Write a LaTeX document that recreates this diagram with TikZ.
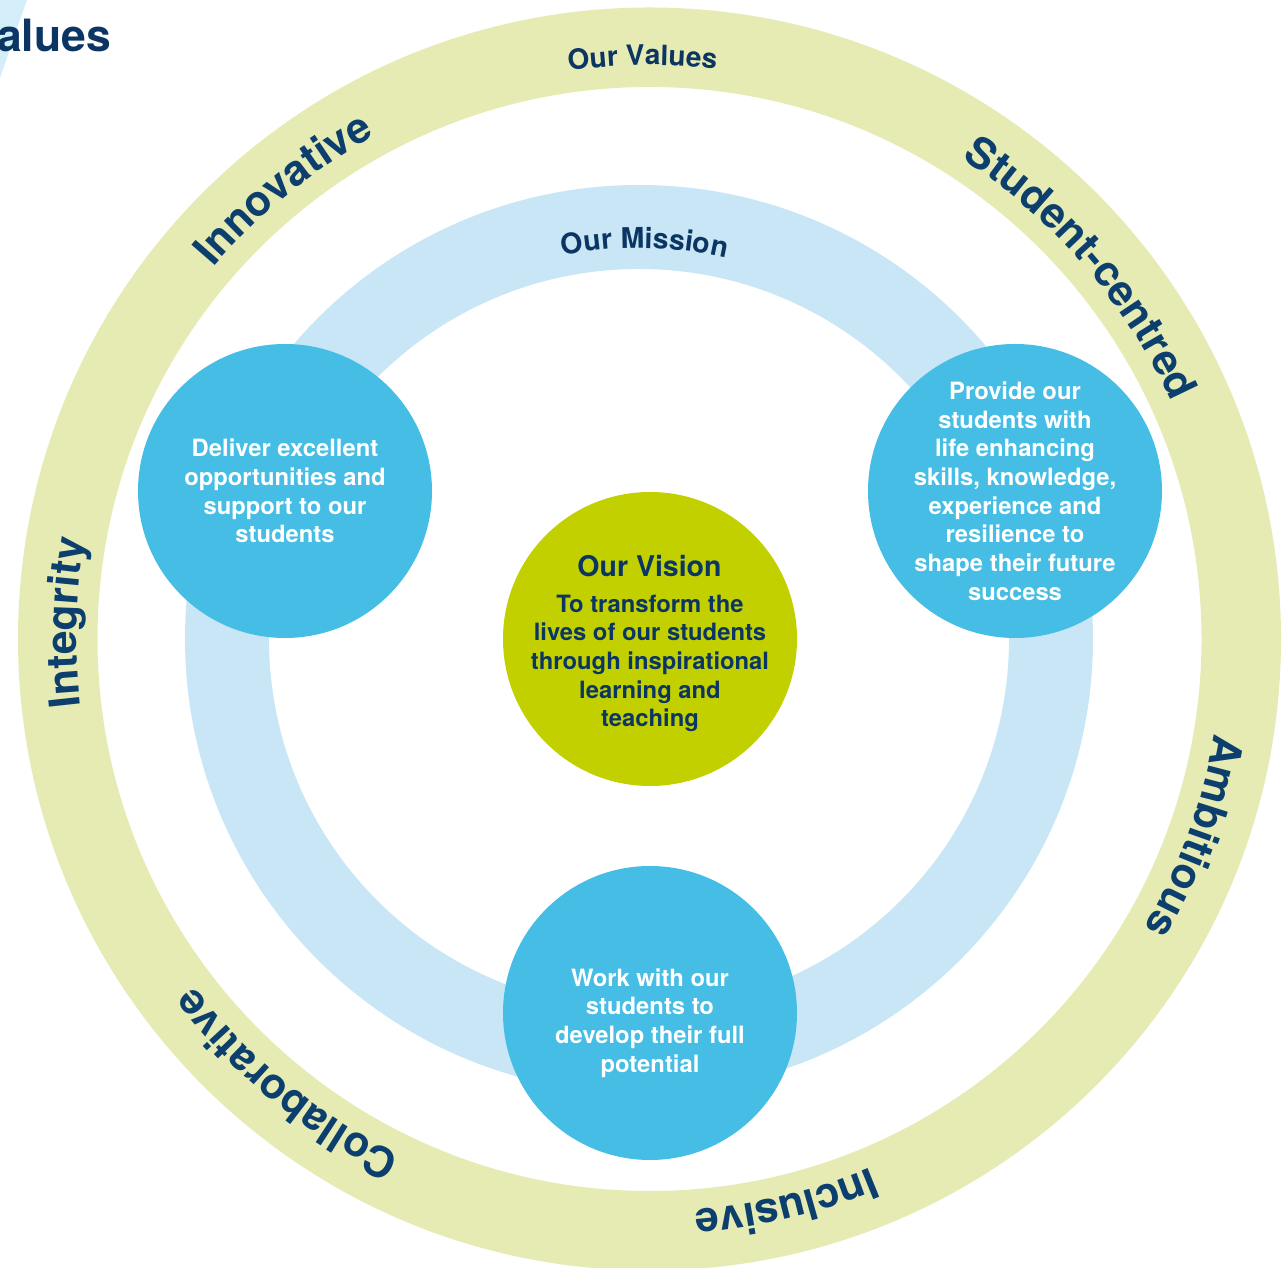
\documentclass[tikz,border=0pt]{standalone}
\usepackage{fontspec}
\setmainfont{TeX Gyre Heros}
\usetikzlibrary{decorations.text}

\definecolor{valuering}{HTML}{E6EBB4}
\definecolor{missionring}{HTML}{C8E6F5}
\definecolor{missionblue}{HTML}{45BDE5}
\definecolor{visiongreen}{HTML}{C2D000}
\definecolor{navy}{HTML}{0B3563}
\definecolor{labelnavy}{HTML}{0C3F6E}
\definecolor{cornerblue}{HTML}{D3EEF9}

% fonts for the curved ring labels
\newcommand\valuefont{\fontsize{42.5}{50}\selectfont\bfseries\color{labelnavy}}
\newcommand\ringtitlefont{\fontsize{28}{34}\selectfont\bfseries\color{navy}}
\newcommand\missiontitlefont{\fontsize{28.5}{34}\selectfont\bfseries\color{navy}}

\begin{document}
\begin{tikzpicture}[x=1pt,y=1pt,
  disc/.style={circle,inner sep=0pt,minimum size=294pt,fill=#1},
  bodytext/.style={align=center,inner sep=0pt,
    font=\bfseries\fontsize{23.8}{28.7}\selectfont,text=#1},
  curvedtext/.style={decorate,decoration={text along path,text align=center,text={#1}}},
]
\useasboundingbox (0,0) rectangle (1288,1267);
\clip (0,0) rectangle (1288,1267);

% corner of the neighbouring panel
\fill[cornerblue] (0,1267) -- (27,1267) .. controls (19,1245) and (9,1215) .. (0,1189) -- cycle;
\node[anchor=base west,inner sep=0pt,text=navy,font=\bfseries\fontsize{44.5}{52}\selectfont]
  (heading) at (-3,1215) {alues};

% values ring and mission ring
\draw[valuering,line width=79.5pt] (649.5,628) circle[radius=591.75];
\draw[missionring,line width=84pt] (639,628) circle[radius=412];

% labels on the values ring (clockwise, tops outward)
\begin{scope}[shift={(649.5,628)}]
  \path[curvedtext={|\ringtitlefont|Our Values}] (120.7:574) arc[start angle=120.7,end angle=60.7,radius=574];
  \path[curvedtext={|\valuefont|Innovative}] (164.1:573) arc[start angle=164.1,end angle=94.1,radius=573];
  \path[curvedtext={|\valuefont|Student-centred}] (80.7:573) arc[start angle=80.7,end angle=0.7,radius=573];
  \path[curvedtext={|\valuefont|Ambitious}] (15.1:573) arc[start angle=15.1,end angle=-54.9,radius=573];
  \path[curvedtext={|\valuefont|Inclusive}] (-41.4:573) arc[start angle=-41.4,end angle=-111.4,radius=573];
  \path[curvedtext={|\valuefont|Collaborative}] (-89.2:573) arc[start angle=-89.2,end angle=-169.2,radius=573];
  \path[curvedtext={|\valuefont|Integrity}] (213.4:573) arc[start angle=213.4,end angle=143.4,radius=573];
\end{scope}

% label on the mission ring
\begin{scope}[shift={(639,628)}]
  \path[curvedtext={|\missiontitlefont|Our Mission}] (119.2:391) arc[start angle=119.2,end angle=59.2,radius=391];
\end{scope}

% mission circles and the vision circle
\node[disc=missionblue] (deliver) at (285,776) {};
\node[disc=missionblue] (provide) at (1015,776) {};
\node[disc=missionblue] (work) at (650,254) {};
\node[disc=visiongreen] (vision) at (650,628) {};

\node[bodytext=white] (deliver-text) at (285,776)
  {Deliver excellent\\opportunities and\\support to our\\students};
\node[bodytext=white] (provide-text) at (1015,776)
  {Provide our\\students with\\life enhancing\\skills, knowledge,\\experience and\\resilience to\\shape their future\\success};
\node[bodytext=white] (work-text) at (650,244)
  {Work with our\\students to\\develop their full\\potential};

\node[anchor=base,inner sep=0pt,text=navy,font=\bfseries\fontsize{28.5}{34}\selectfont]
  (vision-title) at (649.5,690) {Our Vision};
\node[bodytext=navy] (vision-text) at (650,603.5)
  {To transform the\\lives of our students\\through inspirational\\learning and\\teaching};
\end{tikzpicture}
\end{document}
